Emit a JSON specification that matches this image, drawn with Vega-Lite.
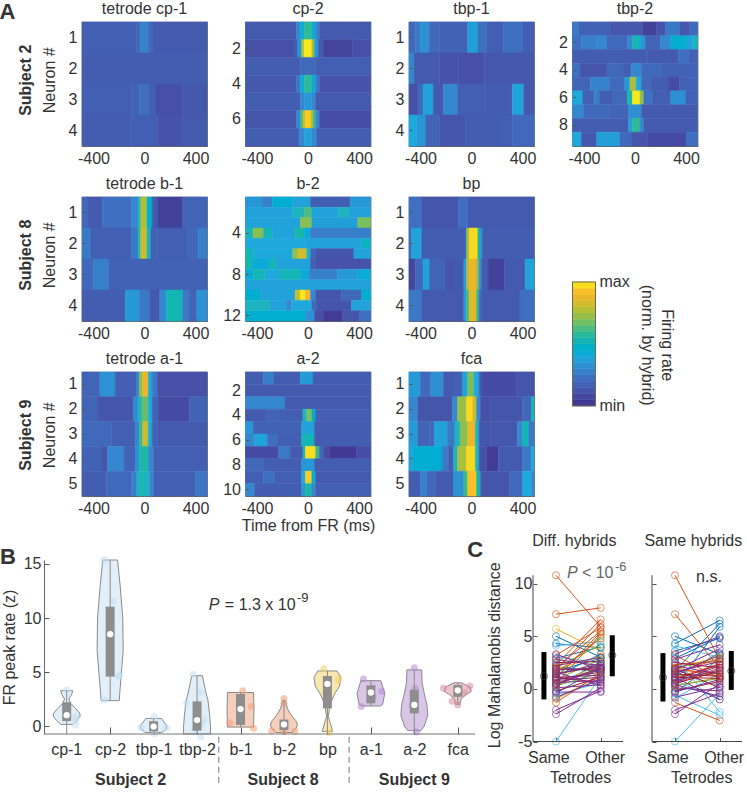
{"$schema":"https://vega.github.io/schema/vega-lite/v6.json","autosize":{"type":"none"},"padding":{"left":82,"top":22,"right":665,"bottom":770},"background":"white",
"config":{"font":"Liberation Sans","view":{"stroke":"#5f6b7c","strokeWidth":1.2},"range":{"heatmap":["#40338f","#4650a6","#4169bb","#3588d0","#1fa8dc","#1db4bd","#3cb98c","#8abf52","#c8bd30","#f6b52c","#f8e81c"],"ramp":["#40338f","#4650a6","#4169bb","#3588d0","#1fa8dc","#1db4bd","#3cb98c","#8abf52","#c8bd30","#f6b52c","#f8e81c"]},"axis":{"grid":false,"labelFontSize":16,"labelColor":"#333","titleFontSize":16,"titleColor":"#333","titleFontWeight":"normal","tickColor":"#555","domainColor":"#666","labelFlush":false,"labelOverlap":false,"labelBound":false},"title":{"fontSize":16,"fontWeight":"normal","color":"#333","offset":5},"text":{"fontSize":16,"color":"#333"}},
"datasets":{
"cp1":[{"n":1,"a":-490,"b":-60,"v":0.16},{"n":1,"a":-60,"b":-30,"v":0.2},{"n":1,"a":-30,"b":30,"v":0.28},{"n":1,"a":30,"b":60,"v":0.2},{"n":1,"a":60,"b":490,"v":0.14},{"n":2,"a":-490,"b":490,"v":0.15},{"n":3,"a":-490,"b":-100,"v":0.16},{"n":3,"a":-100,"b":-40,"v":0.18},{"n":3,"a":-40,"b":30,"v":0.22},{"n":3,"a":30,"b":90,"v":0.16},{"n":3,"a":90,"b":300,"v":0.1},{"n":3,"a":300,"b":490,"v":0.13},{"n":4,"a":-490,"b":-100,"v":0.15},{"n":4,"a":-100,"b":100,"v":0.16},{"n":4,"a":100,"b":300,"v":0.11},{"n":4,"a":300,"b":490,"v":0.14}],
"cp2":[{"n":1,"a":-490,"b":-90,"v":0.14},{"n":1,"a":-90,"b":-60,"v":0.3},{"n":1,"a":-60,"b":-30,"v":0.42},{"n":1,"a":-30,"b":30,"v":0.58},{"n":1,"a":30,"b":60,"v":0.42},{"n":1,"a":60,"b":90,"v":0.28},{"n":1,"a":90,"b":490,"v":0.14},{"n":2,"a":-490,"b":-110,"v":0.1},{"n":2,"a":-110,"b":-80,"v":0.15},{"n":2,"a":-80,"b":-50,"v":0.35},{"n":2,"a":-50,"b":-30,"v":0.75},{"n":2,"a":-30,"b":30,"v":1},{"n":2,"a":30,"b":50,"v":0.75},{"n":2,"a":50,"b":80,"v":0.35},{"n":2,"a":80,"b":120,"v":0.14},{"n":2,"a":120,"b":350,"v":0.06},{"n":2,"a":350,"b":490,"v":0.1},{"n":3,"a":-490,"b":-60,"v":0.15},{"n":3,"a":-60,"b":60,"v":0.2},{"n":3,"a":60,"b":490,"v":0.16},{"n":4,"a":-490,"b":-90,"v":0.13},{"n":4,"a":-90,"b":-60,"v":0.25},{"n":4,"a":-60,"b":-30,"v":0.42},{"n":4,"a":-30,"b":30,"v":0.58},{"n":4,"a":30,"b":60,"v":0.42},{"n":4,"a":60,"b":90,"v":0.25},{"n":4,"a":90,"b":490,"v":0.11},{"n":5,"a":-490,"b":-60,"v":0.15},{"n":5,"a":-60,"b":-30,"v":0.3},{"n":5,"a":-30,"b":30,"v":0.35},{"n":5,"a":30,"b":60,"v":0.3},{"n":5,"a":60,"b":490,"v":0.14},{"n":6,"a":-490,"b":-90,"v":0.12},{"n":6,"a":-90,"b":-60,"v":0.3},{"n":6,"a":-60,"b":-40,"v":0.6},{"n":6,"a":-40,"b":-20,"v":0.8},{"n":6,"a":-20,"b":20,"v":0.95},{"n":6,"a":20,"b":40,"v":0.8},{"n":6,"a":40,"b":60,"v":0.6},{"n":6,"a":60,"b":90,"v":0.3},{"n":6,"a":90,"b":490,"v":0.09},{"n":7,"a":-490,"b":-70,"v":0.15},{"n":7,"a":-70,"b":-30,"v":0.3},{"n":7,"a":-30,"b":30,"v":0.38},{"n":7,"a":30,"b":70,"v":0.3},{"n":7,"a":70,"b":490,"v":0.15}],
"tbp1":[{"n":1,"a":-490,"b":-440,"v":0.2},{"n":1,"a":-440,"b":-400,"v":0.25},{"n":1,"a":-400,"b":-330,"v":0.32},{"n":1,"a":-330,"b":-250,"v":0.2},{"n":1,"a":-250,"b":-30,"v":0.17},{"n":1,"a":-30,"b":50,"v":0.37},{"n":1,"a":50,"b":120,"v":0.22},{"n":1,"a":120,"b":250,"v":0.16},{"n":1,"a":250,"b":400,"v":0.22},{"n":1,"a":400,"b":490,"v":0.16},{"n":2,"a":-490,"b":-450,"v":0.3},{"n":2,"a":-450,"b":-250,"v":0.14},{"n":2,"a":-250,"b":-100,"v":0.11},{"n":2,"a":-100,"b":100,"v":0.1},{"n":2,"a":100,"b":490,"v":0.13},{"n":3,"a":-490,"b":-420,"v":0.1},{"n":3,"a":-420,"b":-380,"v":0.2},{"n":3,"a":-380,"b":-300,"v":0.38},{"n":3,"a":-300,"b":-220,"v":0.14},{"n":3,"a":-220,"b":-110,"v":0.3},{"n":3,"a":-110,"b":100,"v":0.16},{"n":3,"a":100,"b":320,"v":0.15},{"n":3,"a":320,"b":410,"v":0.38},{"n":3,"a":410,"b":490,"v":0.14},{"n":4,"a":-490,"b":-430,"v":0.4},{"n":4,"a":-430,"b":-360,"v":0.35},{"n":4,"a":-360,"b":-250,"v":0.18},{"n":4,"a":-250,"b":-50,"v":0.12},{"n":4,"a":-50,"b":200,"v":0.15},{"n":4,"a":200,"b":320,"v":0.16},{"n":4,"a":320,"b":490,"v":0.2}],
"tbp2":[{"n":1,"a":-490,"b":-440,"v":0.25},{"n":1,"a":-440,"b":-200,"v":0.17},{"n":1,"a":-200,"b":60,"v":0.13},{"n":1,"a":60,"b":170,"v":0.05},{"n":1,"a":170,"b":240,"v":0.12},{"n":1,"a":240,"b":350,"v":0.25},{"n":1,"a":350,"b":430,"v":0.13},{"n":1,"a":430,"b":490,"v":0.2},{"n":2,"a":-490,"b":-420,"v":0.22},{"n":2,"a":-420,"b":-300,"v":0.27},{"n":2,"a":-300,"b":-220,"v":0.3},{"n":2,"a":-220,"b":-60,"v":0.2},{"n":2,"a":-60,"b":-20,"v":0.3},{"n":2,"a":-20,"b":40,"v":0.52},{"n":2,"a":40,"b":80,"v":0.35},{"n":2,"a":80,"b":200,"v":0.18},{"n":2,"a":200,"b":280,"v":0.3},{"n":2,"a":280,"b":400,"v":0.45},{"n":2,"a":400,"b":450,"v":0.38},{"n":2,"a":450,"b":490,"v":0.5},{"n":3,"a":-490,"b":100,"v":0.15},{"n":3,"a":100,"b":340,"v":0.14},{"n":3,"a":340,"b":420,"v":0.22},{"n":3,"a":420,"b":490,"v":0.17},{"n":4,"a":-490,"b":-430,"v":0.22},{"n":4,"a":-430,"b":-220,"v":0.12},{"n":4,"a":-220,"b":-100,"v":0.2},{"n":4,"a":-100,"b":-30,"v":0.16},{"n":4,"a":-30,"b":50,"v":0.3},{"n":4,"a":50,"b":200,"v":0.2},{"n":4,"a":200,"b":490,"v":0.17},{"n":5,"a":-490,"b":-350,"v":0.18},{"n":5,"a":-350,"b":-200,"v":0.28},{"n":5,"a":-200,"b":-80,"v":0.2},{"n":5,"a":-80,"b":-40,"v":0.35},{"n":5,"a":-40,"b":10,"v":0.75},{"n":5,"a":10,"b":50,"v":0.4},{"n":5,"a":50,"b":120,"v":0.2},{"n":5,"a":120,"b":260,"v":0.15},{"n":5,"a":260,"b":350,"v":0.08},{"n":5,"a":350,"b":490,"v":0.17},{"n":6,"a":-490,"b":-410,"v":0.4},{"n":6,"a":-410,"b":-320,"v":0.17},{"n":6,"a":-320,"b":-280,"v":0.27},{"n":6,"a":-280,"b":-180,"v":0.15},{"n":6,"a":-180,"b":-60,"v":0.2},{"n":6,"a":-60,"b":-20,"v":0.55},{"n":6,"a":-20,"b":40,"v":1},{"n":6,"a":40,"b":70,"v":0.7},{"n":6,"a":70,"b":140,"v":0.22},{"n":6,"a":140,"b":280,"v":0.16},{"n":6,"a":280,"b":400,"v":0.32},{"n":6,"a":400,"b":490,"v":0.17},{"n":7,"a":-490,"b":-400,"v":0.3},{"n":7,"a":-400,"b":-200,"v":0.2},{"n":7,"a":-200,"b":-50,"v":0.18},{"n":7,"a":-50,"b":50,"v":0.32},{"n":7,"a":50,"b":490,"v":0.14},{"n":8,"a":-490,"b":-50,"v":0.15},{"n":8,"a":-50,"b":-20,"v":0.38},{"n":8,"a":-20,"b":40,"v":0.58},{"n":8,"a":40,"b":70,"v":0.3},{"n":8,"a":70,"b":490,"v":0.14},{"n":9,"a":-490,"b":-420,"v":0.4},{"n":9,"a":-420,"b":-300,"v":0.13},{"n":9,"a":-300,"b":-120,"v":0.37},{"n":9,"a":-120,"b":-30,"v":0.2},{"n":9,"a":-30,"b":100,"v":0.12},{"n":9,"a":100,"b":400,"v":0.08},{"n":9,"a":400,"b":490,"v":0.22}],
"b1":[{"n":1,"a":-490,"b":-450,"v":0.2},{"n":1,"a":-450,"b":-330,"v":0.14},{"n":1,"a":-330,"b":-100,"v":0.22},{"n":1,"a":-100,"b":-50,"v":0.3},{"n":1,"a":-50,"b":-30,"v":0.5},{"n":1,"a":-30,"b":20,"v":0.76},{"n":1,"a":20,"b":60,"v":0.45},{"n":1,"a":60,"b":100,"v":0.14},{"n":1,"a":100,"b":300,"v":0.05},{"n":1,"a":300,"b":490,"v":0.18},{"n":2,"a":-490,"b":-420,"v":0.25},{"n":2,"a":-420,"b":-100,"v":0.16},{"n":2,"a":-100,"b":-50,"v":0.25},{"n":2,"a":-50,"b":-30,"v":0.55},{"n":2,"a":-30,"b":20,"v":0.8},{"n":2,"a":20,"b":50,"v":0.5},{"n":2,"a":50,"b":100,"v":0.17},{"n":2,"a":100,"b":340,"v":0.16},{"n":2,"a":340,"b":420,"v":0.2},{"n":2,"a":420,"b":490,"v":0.27},{"n":3,"a":-490,"b":-400,"v":0.2},{"n":3,"a":-400,"b":-280,"v":0.27},{"n":3,"a":-280,"b":490,"v":0.17},{"n":4,"a":-490,"b":-150,"v":0.15},{"n":4,"a":-150,"b":-40,"v":0.35},{"n":4,"a":-40,"b":40,"v":0.25},{"n":4,"a":40,"b":120,"v":0.14},{"n":4,"a":120,"b":170,"v":0.3},{"n":4,"a":170,"b":300,"v":0.52},{"n":4,"a":300,"b":350,"v":0.25},{"n":4,"a":350,"b":410,"v":0.18},{"n":4,"a":410,"b":490,"v":0.33}],
"b2":[{"n":1,"a":-490,"b":-360,"v":0.35},{"n":1,"a":-360,"b":-280,"v":0.27},{"n":1,"a":-280,"b":-120,"v":0.44},{"n":1,"a":-120,"b":20,"v":0.38},{"n":1,"a":20,"b":330,"v":0.16},{"n":1,"a":330,"b":490,"v":0.35},{"n":2,"a":-490,"b":-120,"v":0.38},{"n":2,"a":-120,"b":-30,"v":0.5},{"n":2,"a":-30,"b":30,"v":0.62},{"n":2,"a":30,"b":240,"v":0.38},{"n":2,"a":240,"b":320,"v":0.5},{"n":2,"a":320,"b":490,"v":0.38},{"n":3,"a":-490,"b":-60,"v":0.38},{"n":3,"a":-60,"b":30,"v":0.7},{"n":3,"a":30,"b":390,"v":0.37},{"n":3,"a":390,"b":490,"v":0.68},{"n":4,"a":-490,"b":-430,"v":0.5},{"n":4,"a":-430,"b":-350,"v":0.7},{"n":4,"a":-350,"b":-280,"v":0.52},{"n":4,"a":-280,"b":-100,"v":0.38},{"n":4,"a":-100,"b":-30,"v":0.55},{"n":4,"a":-30,"b":20,"v":0.42},{"n":4,"a":20,"b":490,"v":0.27},{"n":5,"a":-490,"b":-20,"v":0.4},{"n":5,"a":-20,"b":420,"v":0.38},{"n":5,"a":420,"b":490,"v":0.48},{"n":6,"a":-490,"b":-430,"v":0.52},{"n":6,"a":-430,"b":-120,"v":0.4},{"n":6,"a":-120,"b":-80,"v":0.7},{"n":6,"a":-80,"b":-10,"v":0.82},{"n":6,"a":-10,"b":20,"v":0.5},{"n":6,"a":20,"b":60,"v":0.2},{"n":6,"a":60,"b":360,"v":0.12},{"n":6,"a":360,"b":490,"v":0.38},{"n":7,"a":-490,"b":-440,"v":0.55},{"n":7,"a":-440,"b":-300,"v":0.42},{"n":7,"a":-300,"b":-250,"v":0.52},{"n":7,"a":-250,"b":20,"v":0.38},{"n":7,"a":20,"b":60,"v":0.16},{"n":7,"a":60,"b":490,"v":0.11},{"n":8,"a":-490,"b":-430,"v":0.42},{"n":8,"a":-430,"b":-340,"v":0.52},{"n":8,"a":-340,"b":-220,"v":0.4},{"n":8,"a":-220,"b":-60,"v":0.52},{"n":8,"a":-60,"b":10,"v":0.42},{"n":8,"a":10,"b":230,"v":0.27},{"n":8,"a":230,"b":390,"v":0.35},{"n":8,"a":390,"b":490,"v":0.42},{"n":9,"a":-490,"b":490,"v":0.38},{"n":10,"a":-490,"b":-370,"v":0.45},{"n":10,"a":-370,"b":-100,"v":0.38},{"n":10,"a":-100,"b":-60,"v":0.8},{"n":10,"a":-60,"b":-20,"v":1},{"n":10,"a":-20,"b":20,"v":0.9},{"n":10,"a":20,"b":60,"v":0.3},{"n":10,"a":60,"b":260,"v":0.12},{"n":10,"a":260,"b":420,"v":0.2},{"n":10,"a":420,"b":490,"v":0.45},{"n":11,"a":-490,"b":-300,"v":0.5},{"n":11,"a":-300,"b":-170,"v":0.38},{"n":11,"a":-170,"b":-130,"v":0.3},{"n":11,"a":-130,"b":30,"v":0.4},{"n":11,"a":30,"b":70,"v":0.2},{"n":11,"a":70,"b":340,"v":0.12},{"n":11,"a":340,"b":490,"v":0.38},{"n":12,"a":-490,"b":-20,"v":0.45},{"n":12,"a":-20,"b":50,"v":0.33},{"n":12,"a":50,"b":120,"v":0.1},{"n":12,"a":120,"b":270,"v":0.03},{"n":12,"a":270,"b":400,"v":0.12},{"n":12,"a":400,"b":490,"v":0.22}],
"bp":[{"n":1,"a":-490,"b":-390,"v":0.22},{"n":1,"a":-390,"b":-100,"v":0.12},{"n":1,"a":-100,"b":-30,"v":0.22},{"n":1,"a":-30,"b":490,"v":0.14},{"n":2,"a":-490,"b":-470,"v":0.2},{"n":2,"a":-470,"b":-390,"v":0.38},{"n":2,"a":-390,"b":-40,"v":0.15},{"n":2,"a":-40,"b":-20,"v":0.7},{"n":2,"a":-20,"b":50,"v":0.97},{"n":2,"a":50,"b":70,"v":0.55},{"n":2,"a":70,"b":90,"v":0.3},{"n":2,"a":90,"b":490,"v":0.15},{"n":3,"a":-490,"b":-440,"v":0.07},{"n":3,"a":-440,"b":-380,"v":0.2},{"n":3,"a":-380,"b":-330,"v":0.38},{"n":3,"a":-330,"b":-200,"v":0.18},{"n":3,"a":-200,"b":-130,"v":0.12},{"n":3,"a":-130,"b":-60,"v":0.14},{"n":3,"a":-60,"b":-40,"v":0.35},{"n":3,"a":-40,"b":-20,"v":0.75},{"n":3,"a":-20,"b":40,"v":0.88},{"n":3,"a":40,"b":60,"v":0.7},{"n":3,"a":60,"b":80,"v":0.3},{"n":3,"a":80,"b":130,"v":0.15},{"n":3,"a":130,"b":260,"v":0.05},{"n":3,"a":260,"b":420,"v":0.14},{"n":3,"a":420,"b":490,"v":0.38},{"n":4,"a":-490,"b":-390,"v":0.25},{"n":4,"a":-390,"b":-60,"v":0.14},{"n":4,"a":-60,"b":-40,"v":0.35},{"n":4,"a":-40,"b":-20,"v":0.6},{"n":4,"a":-20,"b":40,"v":0.85},{"n":4,"a":40,"b":60,"v":0.6},{"n":4,"a":60,"b":90,"v":0.2},{"n":4,"a":90,"b":380,"v":0.14},{"n":4,"a":380,"b":490,"v":0.22}],
"a1":[{"n":1,"a":-490,"b":-350,"v":0.18},{"n":1,"a":-350,"b":-230,"v":0.33},{"n":1,"a":-230,"b":-60,"v":0.16},{"n":1,"a":-60,"b":-40,"v":0.3},{"n":1,"a":-40,"b":-15,"v":0.7},{"n":1,"a":-15,"b":30,"v":0.88},{"n":1,"a":30,"b":60,"v":0.4},{"n":1,"a":60,"b":100,"v":0.25},{"n":1,"a":100,"b":490,"v":0.1},{"n":2,"a":-490,"b":-370,"v":0.18},{"n":2,"a":-370,"b":-90,"v":0.12},{"n":2,"a":-90,"b":-50,"v":0.3},{"n":2,"a":-50,"b":-20,"v":0.5},{"n":2,"a":-20,"b":30,"v":0.66},{"n":2,"a":30,"b":60,"v":0.4},{"n":2,"a":60,"b":110,"v":0.17},{"n":2,"a":110,"b":350,"v":0.08},{"n":2,"a":350,"b":490,"v":0.17},{"n":3,"a":-490,"b":-260,"v":0.2},{"n":3,"a":-260,"b":-70,"v":0.16},{"n":3,"a":-70,"b":-40,"v":0.3},{"n":3,"a":-40,"b":-15,"v":0.6},{"n":3,"a":-15,"b":30,"v":0.8},{"n":3,"a":30,"b":60,"v":0.4},{"n":3,"a":60,"b":100,"v":0.17},{"n":3,"a":100,"b":490,"v":0.14},{"n":4,"a":-490,"b":-340,"v":0.17},{"n":4,"a":-340,"b":-290,"v":0.12},{"n":4,"a":-290,"b":-160,"v":0.3},{"n":4,"a":-160,"b":-70,"v":0.17},{"n":4,"a":-70,"b":-40,"v":0.33},{"n":4,"a":-40,"b":30,"v":0.55},{"n":4,"a":30,"b":70,"v":0.3},{"n":4,"a":70,"b":490,"v":0.16},{"n":5,"a":-490,"b":-300,"v":0.15},{"n":5,"a":-300,"b":-100,"v":0.2},{"n":5,"a":-100,"b":-60,"v":0.27},{"n":5,"a":-60,"b":40,"v":0.5},{"n":5,"a":40,"b":70,"v":0.3},{"n":5,"a":70,"b":400,"v":0.16},{"n":5,"a":400,"b":490,"v":0.24}],
"a2":[{"n":1,"a":-490,"b":-350,"v":0.15},{"n":1,"a":-350,"b":-270,"v":0.27},{"n":1,"a":-270,"b":-60,"v":0.15},{"n":1,"a":-60,"b":40,"v":0.36},{"n":1,"a":40,"b":490,"v":0.15},{"n":2,"a":-490,"b":490,"v":0.14},{"n":3,"a":-490,"b":-180,"v":0.3},{"n":3,"a":-180,"b":490,"v":0.14},{"n":4,"a":-490,"b":-330,"v":0.14},{"n":4,"a":-330,"b":-220,"v":0.18},{"n":4,"a":-220,"b":-40,"v":0.16},{"n":4,"a":-40,"b":-10,"v":0.5},{"n":4,"a":-10,"b":30,"v":0.68},{"n":4,"a":30,"b":60,"v":0.45},{"n":4,"a":60,"b":490,"v":0.16},{"n":5,"a":-490,"b":-430,"v":0.35},{"n":5,"a":-430,"b":-50,"v":0.17},{"n":5,"a":-50,"b":50,"v":0.38},{"n":5,"a":50,"b":490,"v":0.15},{"n":6,"a":-490,"b":-420,"v":0.3},{"n":6,"a":-420,"b":-320,"v":0.38},{"n":6,"a":-320,"b":-240,"v":0.22},{"n":6,"a":-240,"b":-50,"v":0.16},{"n":6,"a":-50,"b":50,"v":0.52},{"n":6,"a":50,"b":490,"v":0.15},{"n":7,"a":-490,"b":-230,"v":0.08},{"n":7,"a":-230,"b":-140,"v":0.25},{"n":7,"a":-140,"b":-40,"v":0.14},{"n":7,"a":-40,"b":-20,"v":0.5},{"n":7,"a":-20,"b":60,"v":0.98},{"n":7,"a":60,"b":90,"v":0.6},{"n":7,"a":90,"b":120,"v":0.2},{"n":7,"a":120,"b":170,"v":0.08},{"n":7,"a":170,"b":380,"v":0.02},{"n":7,"a":380,"b":490,"v":0.09},{"n":8,"a":-490,"b":-350,"v":0.2},{"n":8,"a":-350,"b":-50,"v":0.15},{"n":8,"a":-50,"b":50,"v":0.35},{"n":8,"a":50,"b":490,"v":0.15},{"n":9,"a":-490,"b":-350,"v":0.16},{"n":9,"a":-350,"b":-260,"v":0.22},{"n":9,"a":-260,"b":-50,"v":0.16},{"n":9,"a":-50,"b":-20,"v":0.4},{"n":9,"a":-20,"b":30,"v":0.95},{"n":9,"a":30,"b":60,"v":0.45},{"n":9,"a":60,"b":490,"v":0.14},{"n":10,"a":-490,"b":-420,"v":0.3},{"n":10,"a":-420,"b":-50,"v":0.15},{"n":10,"a":-50,"b":-20,"v":0.35},{"n":10,"a":-20,"b":30,"v":0.55},{"n":10,"a":30,"b":60,"v":0.3},{"n":10,"a":60,"b":490,"v":0.16}],
"fca":[{"n":1,"a":-490,"b":-400,"v":0.36},{"n":1,"a":-400,"b":-320,"v":0.2},{"n":1,"a":-320,"b":-220,"v":0.32},{"n":1,"a":-220,"b":-130,"v":0.14},{"n":1,"a":-130,"b":-70,"v":0.17},{"n":1,"a":-70,"b":-30,"v":0.38},{"n":1,"a":-30,"b":20,"v":0.68},{"n":1,"a":20,"b":60,"v":0.4},{"n":1,"a":60,"b":90,"v":0.14},{"n":1,"a":90,"b":350,"v":0.08},{"n":1,"a":350,"b":490,"v":0.12},{"n":2,"a":-490,"b":-420,"v":0.3},{"n":2,"a":-420,"b":-150,"v":0.12},{"n":2,"a":-150,"b":-110,"v":0.3},{"n":2,"a":-110,"b":-40,"v":0.72},{"n":2,"a":-40,"b":10,"v":0.97},{"n":2,"a":10,"b":40,"v":0.8},{"n":2,"a":40,"b":70,"v":0.3},{"n":2,"a":70,"b":150,"v":0.1},{"n":2,"a":150,"b":400,"v":0.12},{"n":2,"a":400,"b":470,"v":0.2},{"n":2,"a":470,"b":490,"v":0.52},{"n":3,"a":-490,"b":-420,"v":0.36},{"n":3,"a":-420,"b":-330,"v":0.18},{"n":3,"a":-330,"b":-290,"v":0.2},{"n":3,"a":-290,"b":-190,"v":0.38},{"n":3,"a":-190,"b":-130,"v":0.25},{"n":3,"a":-130,"b":-90,"v":0.5},{"n":3,"a":-90,"b":-30,"v":0.7},{"n":3,"a":-30,"b":30,"v":0.88},{"n":3,"a":30,"b":60,"v":0.5},{"n":3,"a":60,"b":150,"v":0.12},{"n":3,"a":150,"b":360,"v":0.13},{"n":3,"a":360,"b":400,"v":0.3},{"n":3,"a":400,"b":450,"v":0.52},{"n":3,"a":450,"b":490,"v":0.25},{"n":4,"a":-490,"b":-460,"v":0.38},{"n":4,"a":-460,"b":-230,"v":0.44},{"n":4,"a":-230,"b":-180,"v":0.25},{"n":4,"a":-180,"b":-140,"v":0.15},{"n":4,"a":-140,"b":-110,"v":0.5},{"n":4,"a":-110,"b":-40,"v":0.75},{"n":4,"a":-40,"b":30,"v":0.97},{"n":4,"a":30,"b":60,"v":0.5},{"n":4,"a":60,"b":120,"v":0.1},{"n":4,"a":120,"b":210,"v":0.03},{"n":4,"a":210,"b":400,"v":0.14},{"n":4,"a":400,"b":470,"v":0.25},{"n":4,"a":470,"b":490,"v":0.4},{"n":5,"a":-490,"b":-400,"v":0.15},{"n":5,"a":-400,"b":-350,"v":0.28},{"n":5,"a":-350,"b":-280,"v":0.2},{"n":5,"a":-280,"b":-140,"v":0.14},{"n":5,"a":-140,"b":-60,"v":0.33},{"n":5,"a":-60,"b":-30,"v":0.6},{"n":5,"a":-30,"b":40,"v":0.92},{"n":5,"a":40,"b":70,"v":0.55},{"n":5,"a":70,"b":90,"v":0.15},{"n":5,"a":90,"b":300,"v":0.12},{"n":5,"a":300,"b":400,"v":0.2},{"n":5,"a":400,"b":470,"v":0.4},{"n":5,"a":470,"b":490,"v":0.3}],
"bar":[{"a":0,"b":0.05,"v":0.02},{"a":0.05,"b":0.1,"v":0.07},{"a":0.1,"b":0.15,"v":0.12},{"a":0.15,"b":0.2,"v":0.17},{"a":0.2,"b":0.25,"v":0.22},{"a":0.25,"b":0.3,"v":0.27},{"a":0.3,"b":0.35,"v":0.32},{"a":0.35,"b":0.4,"v":0.37},{"a":0.4,"b":0.45,"v":0.42},{"a":0.45,"b":0.5,"v":0.47},{"a":0.5,"b":0.55,"v":0.52},{"a":0.55,"b":0.6,"v":0.57},{"a":0.6,"b":0.65,"v":0.62},{"a":0.65,"b":0.7,"v":0.67},{"a":0.7,"b":0.75,"v":0.72},{"a":0.75,"b":0.8,"v":0.77},{"a":0.8,"b":0.85,"v":0.82},{"a":0.85,"b":0.9,"v":0.87},{"a":0.9,"b":0.95,"v":0.92},{"a":0.95,"b":1,"v":0.98}],
"vio":[{"g":"cp","k":1,"y":3.27,"l":0.86,"r":1.14},{"g":"cp","k":1,"y":2.9,"l":0.89,"r":1.11},{"g":"cp","k":1,"y":2.5,"l":0.95,"r":1.05},{"g":"cp","k":1,"y":2.1,"l":0.91,"r":1.09},{"g":"cp","k":1,"y":1.6,"l":0.79,"r":1.21},{"g":"cp","k":1,"y":1.2,"l":0.7,"r":1.3},{"g":"cp","k":1,"y":0.9,"l":0.69,"r":1.31},{"g":"cp","k":1,"y":0.5,"l":0.77,"r":1.23},{"g":"cp","k":1,"y":0.15,"l":0.86,"r":1.14},
{"g":"cp","k":2,"y":15.37,"l":1.83,"r":2.17},{"g":"cp","k":2,"y":13,"l":1.77,"r":2.23},{"g":"cp","k":2,"y":10,"l":1.71,"r":2.29},{"g":"cp","k":2,"y":7,"l":1.7,"r":2.3},{"g":"cp","k":2,"y":4.5,"l":1.75,"r":2.25},{"g":"cp","k":2,"y":3,"l":1.78,"r":2.22},{"g":"cp","k":2,"y":2.35,"l":1.79,"r":2.21},
{"g":"cp","k":3,"y":0.7,"l":2.82,"r":3.18},{"g":"cp","k":3,"y":0.3,"l":2.75,"r":3.25},{"g":"cp","k":3,"y":0,"l":2.69,"r":3.31},{"g":"cp","k":3,"y":-0.3,"l":2.71,"r":3.29},{"g":"cp","k":3,"y":-0.6,"l":2.81,"r":3.19},
{"g":"cp","k":4,"y":4.66,"l":3.88,"r":4.12},{"g":"cp","k":4,"y":3,"l":3.79,"r":4.21},{"g":"cp","k":4,"y":2.4,"l":3.75,"r":4.25},{"g":"cp","k":4,"y":1,"l":3.71,"r":4.29},{"g":"cp","k":4,"y":0,"l":3.69,"r":4.31},{"g":"cp","k":4,"y":-0.74,"l":3.69,"r":4.31},
{"g":"b","k":5,"y":3.1,"l":4.7,"r":5.3},{"g":"b","k":5,"y":1.5,"l":4.69,"r":5.31},{"g":"b","k":5,"y":-0.1,"l":4.7,"r":5.3},
{"g":"b","k":6,"y":2.4,"l":5.97,"r":6.03},{"g":"b","k":6,"y":1.6,"l":5.92,"r":6.08},{"g":"b","k":6,"y":1,"l":5.83,"r":6.17},{"g":"b","k":6,"y":0.5,"l":5.73,"r":6.27},{"g":"b","k":6,"y":0.2,"l":5.69,"r":6.31},{"g":"b","k":6,"y":-0.2,"l":5.71,"r":6.29},{"g":"b","k":6,"y":-0.6,"l":5.81,"r":6.19},
{"g":"bp","k":7,"y":5.1,"l":6.78,"r":7.22},{"g":"bp","k":7,"y":4.5,"l":6.69,"r":7.31},{"g":"bp","k":7,"y":3.7,"l":6.72,"r":7.28},{"g":"bp","k":7,"y":3,"l":6.83,"r":7.17},{"g":"bp","k":7,"y":2,"l":6.94,"r":7.06},{"g":"bp","k":7,"y":0.9,"l":6.98,"r":7.02},{"g":"bp","k":7,"y":-0.5,"l":6.88,"r":7.12},
{"g":"a","k":8,"y":4.2,"l":7.77,"r":8.23},{"g":"a","k":8,"y":3,"l":7.68,"r":8.32},{"g":"a","k":8,"y":2,"l":7.73,"r":8.27},{"g":"a","k":8,"y":1.85,"l":7.78,"r":8.22},
{"g":"a","k":9,"y":5.2,"l":8.83,"r":9.17},{"g":"a","k":9,"y":4,"l":8.82,"r":9.18},{"g":"a","k":9,"y":3,"l":8.77,"r":9.23},{"g":"a","k":9,"y":2,"l":8.71,"r":9.29},{"g":"a","k":9,"y":1,"l":8.69,"r":9.31},{"g":"a","k":9,"y":0,"l":8.77,"r":9.23},{"g":"a","k":9,"y":-0.43,"l":8.85,"r":9.15},
{"g":"fca","k":10,"y":4,"l":9.91,"r":10.09},{"g":"fca","k":10,"y":3.6,"l":9.71,"r":10.29},{"g":"fca","k":10,"y":3.2,"l":9.69,"r":10.31},{"g":"fca","k":10,"y":2.9,"l":9.81,"r":10.19},{"g":"fca","k":10,"y":2.5,"l":9.92,"r":10.08},{"g":"fca","k":10,"y":2,"l":9.95,"r":10.05}],
"pts":[{"g":"cp","x":1,"y":3.33},{"g":"cp","x":1.2,"y":0.86},{"g":"cp","x":1.21,"y":0.5},{"g":"cp","x":1.2,"y":0.1},{"g":"cp","x":1.86,"y":15.4},{"g":"cp","x":2.07,"y":11.6},{"g":"cp","x":2.19,"y":4.6},{"g":"cp","x":2.22,"y":4.65},{"g":"cp","x":1.86,"y":2.4},{"g":"cp","x":2.71,"y":-0.15},{"g":"cp","x":3.02,"y":0.85},{"g":"cp","x":3.3,"y":-0.2},{"g":"cp","x":3.02,"y":-0.7},{"g":"cp","x":3,"y":0.2},{"g":"cp","x":3.91,"y":4.8},{"g":"cp","x":4.09,"y":3.1},{"g":"cp","x":3.76,"y":2.1},{"g":"cp","x":4.16,"y":0.55},{"g":"cp","x":4.09,"y":-1},{"g":"cp","x":3.95,"y":-0.3},{"g":"cp","x":4.1,"y":0.2},{"g":"b","x":5.05,"y":3.27},{"g":"b","x":5.3,"y":-0.2},{"g":"b","x":4.75,"y":0.3},{"g":"b","x":5.25,"y":1.8},{"g":"b","x":6,"y":2.55},{"g":"b","x":6,"y":2.1},{"g":"b","x":5.72,"y":-0.45},{"g":"b","x":6.25,"y":-0.5},{"g":"b","x":6,"y":-0.5},{"g":"bp","x":6.92,"y":5.3},{"g":"bp","x":7.04,"y":-0.6},{"g":"bp","x":7.25,"y":4.3},{"g":"a","x":7.83,"y":4.35},{"g":"a","x":7.78,"y":1.8},{"g":"a","x":8.05,"y":2.7},{"g":"a","x":8.25,"y":3.2},{"g":"a","x":9,"y":5.4},{"g":"a","x":9.05,"y":-0.55},{"g":"a","x":8.95,"y":1.9},{"g":"a","x":9.02,"y":3.5},{"g":"fca","x":9.67,"y":3.5},{"g":"fca","x":10.28,"y":3.7},{"g":"fca","x":10,"y":1.95},{"g":"fca","x":9.87,"y":2.3},{"g":"fca","x":10.15,"y":3.1}],
"box":[{"x":1,"hi":2.2,"lo":0.45,"med":1,"top":3.27,"bot":-0.74},{"x":2,"hi":11.05,"lo":4.57,"med":8.5,"top":15.37,"bot":2.35},{"x":3,"hi":0.45,"lo":-0.5,"med":-0.05,"top":0.7,"bot":-0.6},{"x":4,"hi":2.28,"lo":-0.43,"med":0.55,"top":4.66,"bot":-0.74},{"x":5,"hi":2.96,"lo":0.1,"med":1.57,"top":3.1,"bot":-0.1},{"x":6,"hi":0.6,"lo":-0.37,"med":0.15,"top":2.4,"bot":-0.6},{"x":7,"hi":4.63,"lo":1.63,"med":3.9,"top":5.1,"bot":-0.5},{"x":8,"hi":3.77,"lo":2.1,"med":3.1,"top":4.2,"bot":1.85},{"x":9,"hi":3.36,"lo":1.17,"med":1.95,"top":5.2,"bot":-0.43},{"x":10,"hi":3.8,"lo":2.7,"med":3.3,"top":4,"bot":2}],
"diff":[{"c":"b","s":5,"t":3},{"c":"b","s":4.3,"t":3.9},{"c":"b","s":2.9,"t":4},{"c":"b","s":1.2,"t":3.3},{"c":"b","s":0.2,"t":2.6},{"c":"b","s":-0.4,"t":2},{"c":"b","s":1.7,"t":2.9},{"c":"b","s":2.1,"t":1.6},{"c":"c","s":-5,"t":1.2},{"c":"c","s":4.1,"t":4.5},{"c":"c","s":3,"t":2.5},{"c":"c","s":-0.6,"t":0.6},{"c":"c","s":-0.9,"t":1},{"c":"c","s":0.8,"t":1.9},{"c":"c","s":1.5,"t":2.1},{"c":"y","s":5.7,"t":3.6},{"c":"y","s":1.9,"t":3.1},{"c":"y","s":-1,"t":1.3},{"c":"y","s":0.3,"t":2.4},{"c":"g","s":2,"t":4.2},{"c":"g","s":1.2,"t":5},{"c":"g","s":0.3,"t":1.5},{"c":"g","s":0.9,"t":2.8},{"c":"o","s":10.8,"t":5.9},{"c":"o","s":7.1,"t":7.7},{"c":"o","s":-1.3,"t":1.5},{"c":"o","s":1.8,"t":6.2},{"c":"o","s":2.3,"t":6.6},{"c":"o","s":3.2,"t":5.8},{"c":"o","s":1,"t":5.4},{"c":"o","s":0.5,"t":5.2},{"c":"o","s":1.5,"t":4.8},{"c":"o","s":2,"t":5.5},{"c":"m","s":1.4,"t":2.2},{"c":"m","s":0.9,"t":1.6},{"c":"m","s":0.5,"t":2},{"c":"m","s":-0.2,"t":1.1},{"c":"m","s":1.9,"t":1.8},{"c":"m","s":1.1,"t":0.6},{"c":"m","s":2.5,"t":2.6},{"c":"p","s":-2.4,"t":0.1},{"c":"p","s":-2,"t":-0.2},{"c":"p","s":3.3,"t":1.8},{"c":"p","s":2.8,"t":2.2},{"c":"p","s":1.8,"t":2},{"c":"p","s":1.1,"t":1.3},{"c":"p","s":0.6,"t":0.8},{"c":"p","s":0.1,"t":0.4},{"c":"p","s":-0.3,"t":-0.3},{"c":"p","s":1.4,"t":2.4},{"c":"p","s":0.8,"t":1.1},{"c":"p","s":0.4,"t":1.9},{"c":"p","s":-0.8,"t":0.9},{"c":"p","s":2.2,"t":3},{"c":"p","s":1.6,"t":0.3}],
"same":[{"c":"b","s":5,"t":3.3},{"c":"b","s":4.3,"t":6.5},{"c":"b","s":2.9,"t":4.9},{"c":"b","s":1.2,"t":3.4},{"c":"b","s":0.2,"t":5.9},{"c":"b","s":-0.4,"t":2.9},{"c":"b","s":1.7,"t":6.2},{"c":"b","s":3.6,"t":4.8},{"c":"c","s":-5,"t":-0.5},{"c":"c","s":4.1,"t":3},{"c":"c","s":3,"t":-2.2},{"c":"c","s":-0.6,"t":-2.5},{"c":"c","s":-0.9,"t":1.5},{"c":"c","s":0.8,"t":-1},{"c":"c","s":1.5,"t":0.3},{"c":"y","s":1.9,"t":3.1},{"c":"y","s":0.3,"t":1.1},{"c":"g","s":2,"t":2.8},{"c":"g","s":1.2,"t":1.5},{"c":"g","s":0.3,"t":1},{"c":"o","s":10.8,"t":2.8},{"c":"o","s":7.1,"t":2},{"c":"o","s":-1.3,"t":-3},{"c":"o","s":1.8,"t":1.5},{"c":"o","s":2.3,"t":2.6},{"c":"o","s":3.2,"t":1},{"c":"o","s":1,"t":2.4},{"c":"o","s":0.5,"t":2},{"c":"o","s":1.5,"t":2.9},{"c":"o","s":2,"t":1.2},{"c":"m","s":1.4,"t":1.2},{"c":"m","s":0.9,"t":2.3},{"c":"m","s":0.5,"t":1.7},{"c":"m","s":-0.2,"t":0.7},{"c":"m","s":1.9,"t":0.1},{"c":"m","s":1.1,"t":1},{"c":"m","s":2.5,"t":2},{"c":"p","s":-2.4,"t":0.5},{"c":"p","s":-2,"t":-0.4},{"c":"p","s":3.3,"t":5},{"c":"p","s":2.8,"t":4.2},{"c":"p","s":1.8,"t":3.8},{"c":"p","s":1.1,"t":-1},{"c":"p","s":0.6,"t":2.2},{"c":"p","s":0.1,"t":-0.2},{"c":"p","s":-0.3,"t":0.9},{"c":"p","s":1.4,"t":3.2},{"c":"p","s":0.8,"t":1.8},{"c":"p","s":0.4,"t":-0.7},{"c":"p","s":-0.8,"t":0.2},{"c":"p","s":2.2,"t":1.4},{"c":"p","s":1.6,"t":2.6}],
"m1":[{"x":-0.27,"lo":-1,"hi":3.5,"m":1.2},{"x":1.26,"lo":1.2,"hi":5.1,"m":3.2}],
"m2":[{"x":-0.27,"lo":-1.2,"hi":3.4,"m":1.1},{"x":1.26,"lo":-0.1,"hi":3.6,"m":1.7}],
"one":[{"k":1}]
},
"bounds":"flush","spacing":538,
"vconcat":[
{"columns":4,"bounds":"flush","spacing":{"row":51,"column":38.5},"concat":[
{"title":"tetrode cp-1","width":125,"height":124,"resolve":{"scale":{"y":"independent"}},"layer":[
{"data":{"name":"cp1"},"mark":"rect","encoding":{"x":{"field":"a","type":"quantitative","scale":{"domain":[-490,490],"nice":false},"axis":{"values":[-400,0,400],"labelExpr":"datum.value","title":null,"tickSize":-3,"labelPadding":7}},"x2":{"field":"b"},"y":{"field":"n","type":"ordinal","axis":{"values":[1,2,3,4],"title":null,"tickSize":-3,"labelPadding":8,"domain":false}},"fill":{"field":"v","type":"quantitative","scale":{"domain":[0,1]},"legend":null},"stroke":{"field":"v","type":"quantitative","scale":{"domain":[0,1]},"legend":null},"strokeWidth":{"value":0.5}}},
{"data":{"name":"one"},"mark":{"type":"text","text":"Subject 2","fontWeight":"bold","angle":270},"encoding":{"x":{"datum":-929},"y":{"datum":0.53,"scale":{"domain":[0,1]},"axis":null}}},
{"data":{"name":"one"},"mark":{"type":"text","text":"Neuron #","angle":270},"encoding":{"x":{"datum":-740},"y":{"datum":0.53,"scale":{"domain":[0,1]},"axis":null}}}]},
{"title":"cp-2","width":125,"height":124,"data":{"name":"cp2"},"mark":"rect","encoding":{"x":{"field":"a","type":"quantitative","scale":{"domain":[-490,490],"nice":false},"axis":{"values":[-400,0,400],"labelExpr":"datum.value","title":null,"tickSize":-3,"labelPadding":7}},"x2":{"field":"b"},"y":{"field":"n","type":"ordinal","axis":{"values":[2,4,6],"title":null,"tickSize":-3,"labelPadding":8,"domain":false}},"fill":{"field":"v","type":"quantitative","scale":{"domain":[0,1]},"legend":null},"stroke":{"field":"v","type":"quantitative","scale":{"domain":[0,1]},"legend":null},"strokeWidth":{"value":0.5}}},
{"title":"tbp-1","width":125,"height":124,"data":{"name":"tbp1"},"mark":"rect","encoding":{"x":{"field":"a","type":"quantitative","scale":{"domain":[-490,490],"nice":false},"axis":{"values":[-400,0,400],"labelExpr":"datum.value","title":null,"tickSize":-3,"labelPadding":7}},"x2":{"field":"b"},"y":{"field":"n","type":"ordinal","axis":{"values":[1,2,3,4],"title":null,"tickSize":-3,"labelPadding":8,"domain":false}},"fill":{"field":"v","type":"quantitative","scale":{"domain":[0,1]},"legend":null},"stroke":{"field":"v","type":"quantitative","scale":{"domain":[0,1]},"legend":null},"strokeWidth":{"value":0.5}}},
{"title":"tbp-2","width":125,"height":124,"data":{"name":"tbp2"},"mark":"rect","encoding":{"x":{"field":"a","type":"quantitative","scale":{"domain":[-490,490],"nice":false},"axis":{"values":[-400,0,400],"labelExpr":"datum.value","title":null,"tickSize":-3,"labelPadding":7}},"x2":{"field":"b"},"y":{"field":"n","type":"ordinal","axis":{"values":[2,4,6,8],"title":null,"tickSize":-3,"labelPadding":8,"domain":false}},"fill":{"field":"v","type":"quantitative","scale":{"domain":[0,1]},"legend":null},"stroke":{"field":"v","type":"quantitative","scale":{"domain":[0,1]},"legend":null},"strokeWidth":{"value":0.5}}},
{"title":"tetrode b-1","width":125,"height":124,"resolve":{"scale":{"y":"independent"}},"layer":[
{"data":{"name":"b1"},"mark":"rect","encoding":{"x":{"field":"a","type":"quantitative","scale":{"domain":[-490,490],"nice":false},"axis":{"values":[-400,0,400],"labelExpr":"datum.value","title":null,"tickSize":-3,"labelPadding":7}},"x2":{"field":"b"},"y":{"field":"n","type":"ordinal","axis":{"values":[1,2,3,4],"title":null,"tickSize":-3,"labelPadding":8,"domain":false}},"fill":{"field":"v","type":"quantitative","scale":{"domain":[0,1]},"legend":null},"stroke":{"field":"v","type":"quantitative","scale":{"domain":[0,1]},"legend":null},"strokeWidth":{"value":0.5}}},
{"data":{"name":"one"},"mark":{"type":"text","text":"Subject 8","fontWeight":"bold","angle":270},"encoding":{"x":{"datum":-929},"y":{"datum":0.53,"scale":{"domain":[0,1]},"axis":null}}},
{"data":{"name":"one"},"mark":{"type":"text","text":"Neuron #","angle":270},"encoding":{"x":{"datum":-740},"y":{"datum":0.53,"scale":{"domain":[0,1]},"axis":null}}}]},
{"title":"b-2","width":125,"height":124,"data":{"name":"b2"},"mark":"rect","encoding":{"x":{"field":"a","type":"quantitative","scale":{"domain":[-490,490],"nice":false},"axis":{"values":[-400,0,400],"labelExpr":"datum.value","title":null,"tickSize":-3,"labelPadding":7}},"x2":{"field":"b"},"y":{"field":"n","type":"ordinal","sort":null,"scale":{"domain":[1,2,3,4,5,6,7,8,9,10,11,12]},"axis":{"values":[4,8,12],"title":null,"tickSize":-3,"labelPadding":8,"domain":false}},"fill":{"field":"v","type":"quantitative","scale":{"domain":[0,1]},"legend":null},"stroke":{"field":"v","type":"quantitative","scale":{"domain":[0,1]},"legend":null},"strokeWidth":{"value":0.5}}},
{"title":"bp","width":125,"height":124,"data":{"name":"bp"},"mark":"rect","encoding":{"x":{"field":"a","type":"quantitative","scale":{"domain":[-490,490],"nice":false},"axis":{"values":[-400,0,400],"labelExpr":"datum.value","title":null,"tickSize":-3,"labelPadding":7}},"x2":{"field":"b"},"y":{"field":"n","type":"ordinal","axis":{"values":[1,2,3,4],"title":null,"tickSize":-3,"labelPadding":8,"domain":false}},"fill":{"field":"v","type":"quantitative","scale":{"domain":[0,1]},"legend":null},"stroke":{"field":"v","type":"quantitative","scale":{"domain":[0,1]},"legend":null},"strokeWidth":{"value":0.5}}},
{"width":23,"height":124,"view":{"stroke":null},"layer":[
{"data":{"name":"bar"},"mark":"rect","encoding":{"x":{"datum":0,"scale":{"domain":[0,1],"nice":false},"axis":null},"x2":{"datum":1},"y":{"field":"a","type":"quantitative","scale":{"domain":[0.685,1.685],"nice":false,"zero":false},"axis":null},"y2":{"field":"b"},"fill":{"field":"v","type":"quantitative","scale":{"domain":[0,1]},"legend":null},"stroke":{"field":"v","type":"quantitative","scale":{"domain":[0,1]},"legend":null},"strokeWidth":{"value":0.5}}},
{"data":{"name":"one"},"mark":{"type":"rect","filled":false,"stroke":"#6b6b55","strokeWidth":1},"encoding":{"x":{"datum":0},"x2":{"datum":1},"y":{"datum":0},"y2":{"datum":1}}},
{"data":{"name":"one"},"mark":{"type":"text","text":"max","align":"left"},"encoding":{"x":{"datum":1.17},"y":{"datum":1}}},
{"data":{"name":"one"},"mark":{"type":"text","text":"min","align":"left"},"encoding":{"x":{"datum":1.17},"y":{"datum":0}}},
{"data":{"name":"one"},"mark":{"type":"text","text":"Firing rate","angle":90},"encoding":{"x":{"datum":4.09},"y":{"datum":0.49}}},
{"data":{"name":"one"},"mark":{"type":"text","text":"(norm. by hybrid)","angle":90},"encoding":{"x":{"datum":3.26},"y":{"datum":0.49}}},
{"data":{"name":"one"},"mark":{"type":"text","text":"A","fontWeight":"bold","fontSize":22},"encoding":{"x":{"datum":-24.57},"y":{"datum":3.177}}}]},
{"title":"tetrode a-1","width":125,"height":124,"resolve":{"scale":{"y":"independent"}},"layer":[
{"data":{"name":"a1"},"mark":"rect","encoding":{"x":{"field":"a","type":"quantitative","scale":{"domain":[-490,490],"nice":false},"axis":{"values":[-400,0,400],"labelExpr":"datum.value","title":null,"tickSize":-3,"labelPadding":7}},"x2":{"field":"b"},"y":{"field":"n","type":"ordinal","axis":{"values":[1,2,3,4,5],"title":null,"tickSize":-3,"labelPadding":8,"domain":false}},"fill":{"field":"v","type":"quantitative","scale":{"domain":[0,1]},"legend":null},"stroke":{"field":"v","type":"quantitative","scale":{"domain":[0,1]},"legend":null},"strokeWidth":{"value":0.5}}},
{"data":{"name":"one"},"mark":{"type":"text","text":"Subject 9","fontWeight":"bold","angle":270},"encoding":{"x":{"datum":-929},"y":{"datum":0.49,"scale":{"domain":[0,1]},"axis":null}}},
{"data":{"name":"one"},"mark":{"type":"text","text":"Neuron #","angle":270},"encoding":{"x":{"datum":-740},"y":{"datum":0.49,"scale":{"domain":[0,1]},"axis":null}}}]},
{"title":"a-2","width":125,"height":124,"data":{"name":"a2"},"mark":"rect","encoding":{"x":{"field":"a","type":"quantitative","scale":{"domain":[-490,490],"nice":false},"axis":{"values":[-400,0,400],"labelExpr":"datum.value","title":"Time from FR (ms)","titlePadding":1,"tickSize":-3,"labelPadding":7}},"x2":{"field":"b"},"y":{"field":"n","type":"ordinal","sort":null,"scale":{"domain":[1,2,3,4,5,6,7,8,9,10]},"axis":{"values":[2,4,6,8,10],"title":null,"tickSize":-3,"labelPadding":8,"domain":false}},"fill":{"field":"v","type":"quantitative","scale":{"domain":[0,1]},"legend":null},"stroke":{"field":"v","type":"quantitative","scale":{"domain":[0,1]},"legend":null},"strokeWidth":{"value":0.5}}},
{"title":"fca","width":125,"height":124,"data":{"name":"fca"},"mark":"rect","encoding":{"x":{"field":"a","type":"quantitative","scale":{"domain":[-490,490],"nice":false},"axis":{"values":[-400,0,400],"labelExpr":"datum.value","title":null,"tickSize":-3,"labelPadding":7}},"x2":{"field":"b"},"y":{"field":"n","type":"ordinal","axis":{"values":[1,2,3,4,5],"title":null,"tickSize":-3,"labelPadding":8,"domain":false}},"fill":{"field":"v","type":"quantitative","scale":{"domain":[0,1]},"legend":null},"stroke":{"field":"v","type":"quantitative","scale":{"domain":[0,1]},"legend":null},"strokeWidth":{"value":0.5}}}
]},
{"bounds":"flush","spacing":29,"hconcat":[
{"width":422,"height":174,"view":{"stroke":null},"layer":[
{"data":{"name":"vio"},"mark":{"type":"area","orient":"horizontal","stroke":"#8a8a8a","strokeWidth":1,"fillOpacity":0.5},"encoding":{"x":{"field":"l","type":"quantitative","scale":{"domain":[1.352,11.064],"nice":false,"zero":false},"axis":{"values":[1,2,3,4,5,6,7,8,9,10],"labelExpr":"['cp-1','cp-2','tbp-1','tbp-2','b-1','b-2','bp','a-1','a-2','fca'][datum.value-1]","title":null,"domain":false,"tickSize":-7,"labelPadding":14}},"x2":{"field":"r"},"y":{"field":"y","type":"quantitative","scale":{"domain":[-0.74,15.37],"nice":false,"zero":false},"axis":{"values":[0,5,10,15],"title":"FR peak rate (z)","offset":38,"tickSize":-5,"labelPadding":8,"titlePadding":6}},"detail":{"field":"k"},"fill":{"field":"g","type":"nominal","scale":{"domain":["cp","b","bp","a","fca"],"range":["#c5dff3","#ec9f78","#f2cf60","#b48ccf","#d98c9c"]},"legend":null}}},
{"data":{"name":"pts"},"mark":{"type":"circle","size":50,"opacity":0.55},"encoding":{"x":{"field":"x","type":"quantitative"},"y":{"field":"y","type":"quantitative"},"fill":{"field":"g","type":"nominal"}}},
{"data":{"name":"box"},"mark":{"type":"rule","size":1,"color":"#8a8a8a"},"encoding":{"x":{"field":"x","type":"quantitative"},"y":{"field":"top","type":"quantitative"},"y2":{"field":"bot"}}},
{"data":{"name":"box"},"mark":{"type":"rule","size":9,"color":"#8e8e8e"},"encoding":{"x":{"field":"x","type":"quantitative"},"y":{"field":"hi","type":"quantitative"},"y2":{"field":"lo"}}},
{"data":{"name":"box"},"mark":{"type":"circle","size":40,"color":"white","opacity":1},"encoding":{"x":{"field":"x","type":"quantitative"},"y":{"field":"med","type":"quantitative"}}},
{"data":{"name":"one"},"mark":{"type":"rule","color":"#777","size":1},"encoding":{"x":{"datum":0.478},"x2":{"datum":10.4},"y":{"datum":-0.74}}},
{"data":{"name":"one"},"mark":{"type":"rule","color":"#777","size":1,"strokeDash":[6,4]},"encoding":{"x":{"datum":4.5},"y":{"datum":-1},"y2":{"datum":-5.46}}},
{"data":{"name":"one"},"mark":{"type":"rule","color":"#777","size":1,"strokeDash":[6,4]},"encoding":{"x":{"datum":7.5},"y":{"datum":-1},"y2":{"datum":-5.46}}},
{"data":{"name":"one"},"mark":{"type":"text","text":"cp-1"},"encoding":{"x":{"datum":1},"y":{"datum":-2.22}}},
{"data":{"name":"one"},"mark":{"type":"text","text":"Subject 2","fontWeight":"bold"},"encoding":{"x":{"datum":2.47},"y":{"datum":-5}}},
{"data":{"name":"one"},"mark":{"type":"text","text":"Subject 8","fontWeight":"bold"},"encoding":{"x":{"datum":5.98},"y":{"datum":-5}}},
{"data":{"name":"one"},"mark":{"type":"text","text":"Subject 9","fontWeight":"bold"},"encoding":{"x":{"datum":9},"y":{"datum":-5}}},
{"data":{"name":"one"},"mark":{"type":"text","text":"P","fontStyle":"italic","align":"left"},"encoding":{"x":{"datum":4.27},"y":{"datum":11.2}}},
{"data":{"name":"one"},"mark":{"type":"text","text":"= 1.3 x 10","align":"left"},"encoding":{"x":{"datum":4.64},"y":{"datum":11.2}}},
{"data":{"name":"one"},"mark":{"type":"text","text":"-9","align":"left","fontSize":13},"encoding":{"x":{"datum":6.3},"y":{"datum":11.85}}},
{"data":{"name":"one"},"mark":{"type":"text","text":"B","fontWeight":"bold","fontSize":22},"encoding":{"x":{"datum":-0.35},"y":{"datum":15.65}}}]},
{"width":90,"height":181.5,"view":{"stroke":null},"layer":[
{"data":{"name":"diff"},"mark":{"type":"rule","size":1},"encoding":{"x":{"datum":0,"scale":{"domain":[-0.515,1.5],"nice":false,"zero":false},"axis":{"values":[0,1],"labels":false,"title":null,"domain":false,"tickSize":-4}},"x2":{"datum":1},"y":{"field":"s","type":"quantitative","scale":{"domain":[-5,12.25],"nice":false,"zero":false},"axis":{"values":[-5,0,5,10],"labelExpr":"datum.value","title":null,"domain":false,"tickSize":-4,"labelPadding":5}},"y2":{"field":"t"},"color":{"field":"c","type":"nominal","scale":{"domain":["b","o","y","p","g","c","m"],"range":["#0072BD","#D95319","#EDB120","#7E2F8E","#77AC30","#4DBEEE","#A2142F"]},"legend":null}}},
{"data":{"name":"diff"},"mark":{"type":"point","size":50,"strokeWidth":0.9},"encoding":{"x":{"datum":0},"y":{"field":"s","type":"quantitative"},"color":{"field":"c","type":"nominal"}}},
{"data":{"name":"diff"},"mark":{"type":"point","size":50,"strokeWidth":0.9},"encoding":{"x":{"datum":1},"y":{"field":"t","type":"quantitative"},"color":{"field":"c","type":"nominal"}}},
{"data":{"name":"m1"},"mark":{"type":"rule","size":5,"color":"black"},"encoding":{"x":{"field":"x","type":"quantitative"},"y":{"field":"hi","type":"quantitative"},"y2":{"field":"lo"}}},
{"data":{"name":"m1"},"mark":{"type":"point","size":50,"color":"#333","strokeWidth":1},"encoding":{"x":{"field":"x","type":"quantitative"},"y":{"field":"m","type":"quantitative"}}},
{"data":{"name":"one"},"mark":{"type":"rule","color":"#444","size":1},"encoding":{"x":{"datum":-0.515},"x2":{"datum":1.5},"y":{"datum":-5}}},
{"data":{"name":"one"},"mark":{"type":"rule","color":"#444","size":1},"encoding":{"x":{"datum":-0.515},"y":{"datum":-5},"y2":{"datum":10.8}}},
{"data":{"name":"one"},"mark":{"type":"text","text":"Diff. hybrids"},"encoding":{"x":{"datum":0.41},"y":{"datum":14.09}}},
{"data":{"name":"one"},"mark":{"type":"text","text":"Same"},"encoding":{"x":{"datum":-0.16},"y":{"datum":-6.6}}},
{"data":{"name":"one"},"mark":{"type":"text","text":"Other"},"encoding":{"x":{"datum":1.1},"y":{"datum":-6.6}}},
{"data":{"name":"one"},"mark":{"type":"text","text":"Tetrodes"},"encoding":{"x":{"datum":0.55},"y":{"datum":-8.5}}},
{"data":{"name":"one"},"mark":{"type":"text","text":"Log Mahalanobis distance","angle":270},"encoding":{"x":{"datum":-1.365},"y":{"datum":3.2}}},
{"data":{"name":"one"},"mark":{"type":"text","text":"P","fontStyle":"italic","align":"left","color":"#666"},"encoding":{"x":{"datum":0.246},"y":{"datum":11.03}}},
{"data":{"name":"one"},"mark":{"type":"text","text":"< 10","align":"left","color":"#666"},"encoding":{"x":{"datum":0.58},"y":{"datum":11.03}}},
{"data":{"name":"one"},"mark":{"type":"text","text":"-6","align":"left","fontSize":13,"color":"#666"},"encoding":{"x":{"datum":1.32},"y":{"datum":11.6}}},
{"data":{"name":"one"},"mark":{"type":"text","text":"C","fontWeight":"bold","fontSize":22},"encoding":{"x":{"datum":-1.81},"y":{"datum":13.2}}}]},
{"width":90,"height":181.5,"view":{"stroke":null},"layer":[
{"data":{"name":"same"},"mark":{"type":"rule","size":1},"encoding":{"x":{"datum":0,"scale":{"domain":[-0.515,1.5],"nice":false,"zero":false},"axis":{"values":[0,1],"labels":false,"title":null,"domain":false,"tickSize":-4}},"x2":{"datum":1},"y":{"field":"s","type":"quantitative","scale":{"domain":[-5,12.25],"nice":false,"zero":false},"axis":{"values":[-5,0,5,10],"labels":false,"title":null,"domain":false,"tickSize":-4}},"y2":{"field":"t"},"color":{"field":"c","type":"nominal","scale":{"domain":["b","o","y","p","g","c","m"],"range":["#0072BD","#D95319","#EDB120","#7E2F8E","#77AC30","#4DBEEE","#A2142F"]},"legend":null}}},
{"data":{"name":"same"},"mark":{"type":"point","size":50,"strokeWidth":0.9},"encoding":{"x":{"datum":0},"y":{"field":"s","type":"quantitative"},"color":{"field":"c","type":"nominal"}}},
{"data":{"name":"same"},"mark":{"type":"point","size":50,"strokeWidth":0.9},"encoding":{"x":{"datum":1},"y":{"field":"t","type":"quantitative"},"color":{"field":"c","type":"nominal"}}},
{"data":{"name":"m2"},"mark":{"type":"rule","size":5,"color":"black"},"encoding":{"x":{"field":"x","type":"quantitative"},"y":{"field":"hi","type":"quantitative"},"y2":{"field":"lo"}}},
{"data":{"name":"m2"},"mark":{"type":"point","size":50,"color":"#333","strokeWidth":1},"encoding":{"x":{"field":"x","type":"quantitative"},"y":{"field":"m","type":"quantitative"}}},
{"data":{"name":"one"},"mark":{"type":"rule","color":"#444","size":1},"encoding":{"x":{"datum":-0.515},"x2":{"datum":1.5},"y":{"datum":-5}}},
{"data":{"name":"one"},"mark":{"type":"rule","color":"#444","size":1},"encoding":{"x":{"datum":-0.515},"y":{"datum":-5},"y2":{"datum":10.8}}},
{"data":{"name":"one"},"mark":{"type":"text","text":"Same hybrids"},"encoding":{"x":{"datum":0.41},"y":{"datum":14.09}}},
{"data":{"name":"one"},"mark":{"type":"text","text":"Same"},"encoding":{"x":{"datum":-0.16},"y":{"datum":-6.6}}},
{"data":{"name":"one"},"mark":{"type":"text","text":"Other"},"encoding":{"x":{"datum":1.1},"y":{"datum":-6.6}}},
{"data":{"name":"one"},"mark":{"type":"text","text":"Tetrodes"},"encoding":{"x":{"datum":0.6},"y":{"datum":-8.5}}},
{"data":{"name":"one"},"mark":{"type":"text","text":"n.s."},"encoding":{"x":{"datum":0.76},"y":{"datum":10.65}}}]}
]}
]}
